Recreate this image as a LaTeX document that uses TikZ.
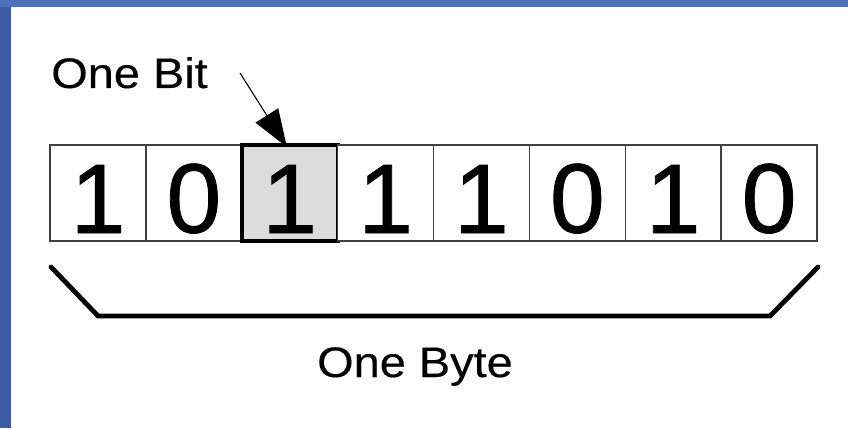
\documentclass[tikz,border=0pt]{standalone}
\usepackage{fontspec}
\setmainfont{Liberation Sans}
\newfontfamily\capfont[FakeStretch=1.1,FakeBold=0.3]{Liberation Sans}
\newfontfamily\digitfont[FakeBold=0.8]{Liberation Sans}
\usetikzlibrary{arrows.meta,positioning}
\definecolor{slideblue}{HTML}{4F6FB8}
\definecolor{slidedark}{HTML}{3D5BA5}
\definecolor{cellgray}{HTML}{DCDCDC}
\definecolor{cellline}{HTML}{404040}

\begin{document}
\begin{tikzpicture}[
  x=0.75pt, y=-0.75pt,
  cell/.style={draw=cellline,line width=1.1pt,fill=white,minimum width=71.9pt,minimum height=72pt,
               inner sep=0pt,outer sep=0pt,text height=60pt,font=\digitfont\fontsize{74}{80}\selectfont},
  hlcell/.style={cell,draw=black,line width=3pt,fill=cellgray},
  caption/.style={inner sep=0pt,font=\capfont\fontsize{32}{36}\selectfont},
  pointer/.style={draw,line width=0.8pt,-{Triangle[length=28pt,width=20pt]}},
  brace/.style={draw,line width=3.6pt,line cap=round},
]
  % slide background
  \fill[slidedark] (0,0) rectangle (848,428);
  \fill[slideblue] (0,0) rectangle (848,7);
  \fill[white] (11,7) rectangle (848,428);
  \useasboundingbox (0,0) rectangle (848,428);

  % the eight bits
  \node[cell] (b1) at (98,193) {1};
  \foreach \d/\s [count=\i from 2, remember=\i as \j (initially 1)] in
      {0/cell,1/hlcell,1/cell,1/cell,0/cell,1/cell,0/cell}
    \node[\s,right=0pt of b\j] (b\i) {\d};

  % one bit
  \node[caption,anchor=base west] (bit) at (51,88) {One Bit};
  \coordinate (bittail) at (240,73);
  \draw[pointer] (bittail) -- ([xshift=-2.2pt,yshift=-1.5pt]b3.north);

  % one byte
  \draw[brace] ([xshift=0.75pt,yshift=-19.5pt]b1.south west) -- ++(47,49) -- ++(672,0)
    -- ([xshift=0.75pt,yshift=-19.5pt]b8.south east);
  \node[caption,anchor=base] (byte) at (415,377) {One Byte};
\end{tikzpicture}
\end{document}
